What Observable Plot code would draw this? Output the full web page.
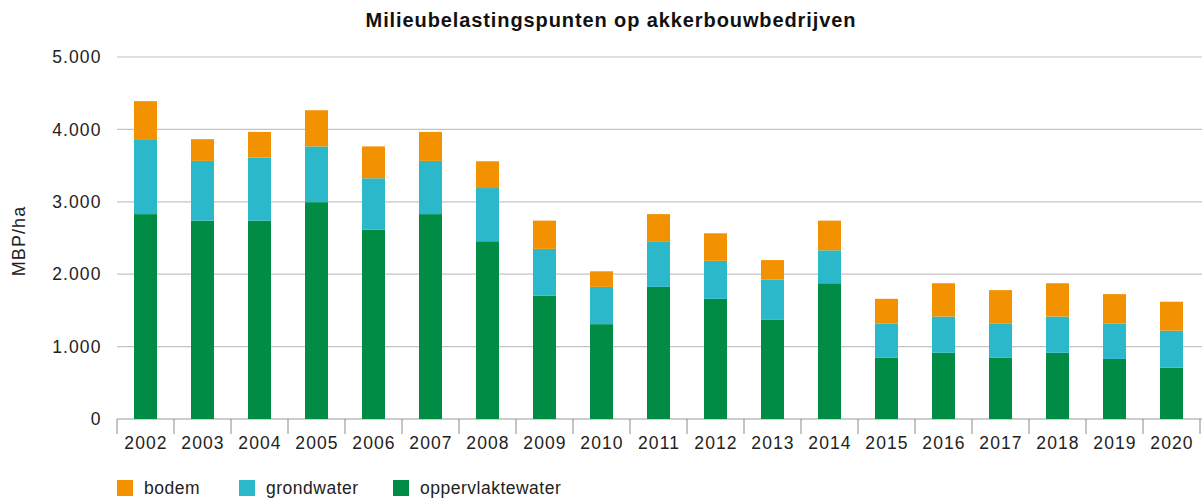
<!DOCTYPE html>
<html>
<head>
<meta charset="utf-8">
<script src="https://cdn.jsdelivr.net/npm/d3@7"></script>
<script src="https://cdn.jsdelivr.net/npm/@observablehq/plot@0.6"></script>
<style>
  html, body { margin: 0; padding: 0; background: #fff; }
  body { width: 1202px; height: 498px; overflow: hidden; position: relative; font-family: "Liberation Sans", Arial, sans-serif; color: #222; }
  #title { position: absolute; left: 0; top: 0; width: 1222px; height: 36px; line-height: 40px; text-align: center; font-weight: bold; font-size: 20px; letter-spacing: 0.9px; color: #111; }
  #chart { position: absolute; left: 0; top: 36px; }
  #chart svg text { letter-spacing: 1.1px; }
  #legend { position: absolute; left: 0; top: 478px; width: 1202px; height: 20px; font-size: 17.5px; letter-spacing: 0.5px; color: #222; }
  .item { position: absolute; top: 0; height: 20px; display: flex; align-items: center; }
  .sw { width: 16px; height: 16px; margin-right: 11px; }
</style>
</head>
<body>
<div id="title">Milieubelastingspunten op akkerbouwbedrijven</div>
<div id="chart"></div>
<div id="legend"></div>
<script>
const years = ["2002","2003","2004","2005","2006","2007","2008","2009","2010","2011","2012","2013","2014","2015","2016","2017","2018","2019","2020"];
const oppervlaktewater = [2830, 2740, 2740, 2995, 2615, 2830, 2455, 1705, 1310, 1825, 1660, 1375, 1875, 850, 915, 850, 915, 830, 710];
const grondwater = [1035, 825, 870, 770, 710, 735, 735, 645, 515, 630, 525, 550, 455, 470, 500, 465, 500, 490, 510];
const bodem = [525, 300, 355, 500, 440, 400, 370, 390, 215, 375, 380, 270, 410, 340, 460, 465, 460, 405, 400];
const seriesNames = ["oppervlaktewater", "grondwater", "bodem"];
const seriesColors = ["#008C45", "#2BB8CA", "#F39200"];
const yTicks = [0, 1000, 2000, 3000, 4000, 5000];
const legendOrder = ["bodem", "grondwater", "oppervlaktewater"];
const legendX = [117, 239, 393];

const seriesValues = {oppervlaktewater, grondwater, bodem};
const data = [];
years.forEach((y, i) => {
  seriesNames.forEach(s => data.push({year: y, series: s, value: seriesValues[s][i]}));
});

const fmt = d => d3.format(",")(d).replace(/,/g, ".");

const W = 1202, H = 432;
const plot = Plot.plot({
  width: W,
  height: H,
  marginLeft: 117,
  marginRight: 2,
  marginTop: 21,
  marginBottom: 49,
  style: {fontFamily: "'Liberation Sans', Arial, sans-serif", fontSize: "17.5px", color: "#222", background: "#fff", overflow: "visible"},
  x: {domain: years, paddingInner: 0.6, paddingOuter: 0.3, label: null},
  y: {domain: [0, 5000], label: null},
  color: {domain: seriesNames, range: seriesColors},
  marks: [
    Plot.axisY({ticks: yTicks, tickFormat: fmt, tickSize: 0, tickPadding: 16, label: null, fontSize: 17.5}),
    Plot.axisX({tickSize: 0, tickPadding: 17, label: null, fontSize: 17.5}),
    Plot.barY(data, Plot.stackY({x: "year", y: "value", fill: "series", order: seriesNames}))
  ]
});
document.getElementById("chart").appendChild(plot);

// Gridlines across the full width and band-boundary ticks, positioned with the plot's own scales
const xs = plot.scale("x");
const ys = plot.scale("y");
const svg = d3.select(plot);
const x0 = xs.range[0];
const g = svg.append("g");
yTicks.forEach(t => {
  g.append("line")
    .attr("x1", x0).attr("x2", W)
    .attr("y1", ys.apply(t)).attr("y2", ys.apply(t))
    .attr("stroke", t === 0 ? "#9a9a9a" : "#c4c4c4")
    .attr("stroke-width", 1.2);
});
const y0 = ys.apply(0);
const gap = (xs.step - xs.bandwidth) / 2;
const bounds = years.map(y => xs.apply(y) - gap);
bounds.push(xs.apply(years[years.length - 1]) + xs.bandwidth + gap);
bounds.forEach(b => {
  g.append("line")
    .attr("x1", b).attr("x2", b)
    .attr("y1", y0).attr("y2", y0 + 15)
    .attr("stroke", "#8a8a8a").attr("stroke-width", 1);
});
plot.insertBefore(g.node(), plot.querySelector("g[aria-label='bar']"));

// y-axis title
svg.append("text")
  .attr("transform", `translate(25,${(ys.apply(0) + ys.apply(5000)) / 2 + 3}) rotate(-90)`)
  .attr("text-anchor", "middle")
  .attr("font-size", 18)
  .attr("fill", "#222")
  .text("MBP/ha");

// legend
const leg = d3.select("#legend");
legendOrder.forEach((s, i) => {
  const it = leg.append("div").attr("class", "item").style("left", legendX[i] + "px");
  it.append("div").attr("class", "sw").style("background", seriesColors[seriesNames.indexOf(s)]);
  it.append("span").text(s);
});
</script>
</body>
</html>
